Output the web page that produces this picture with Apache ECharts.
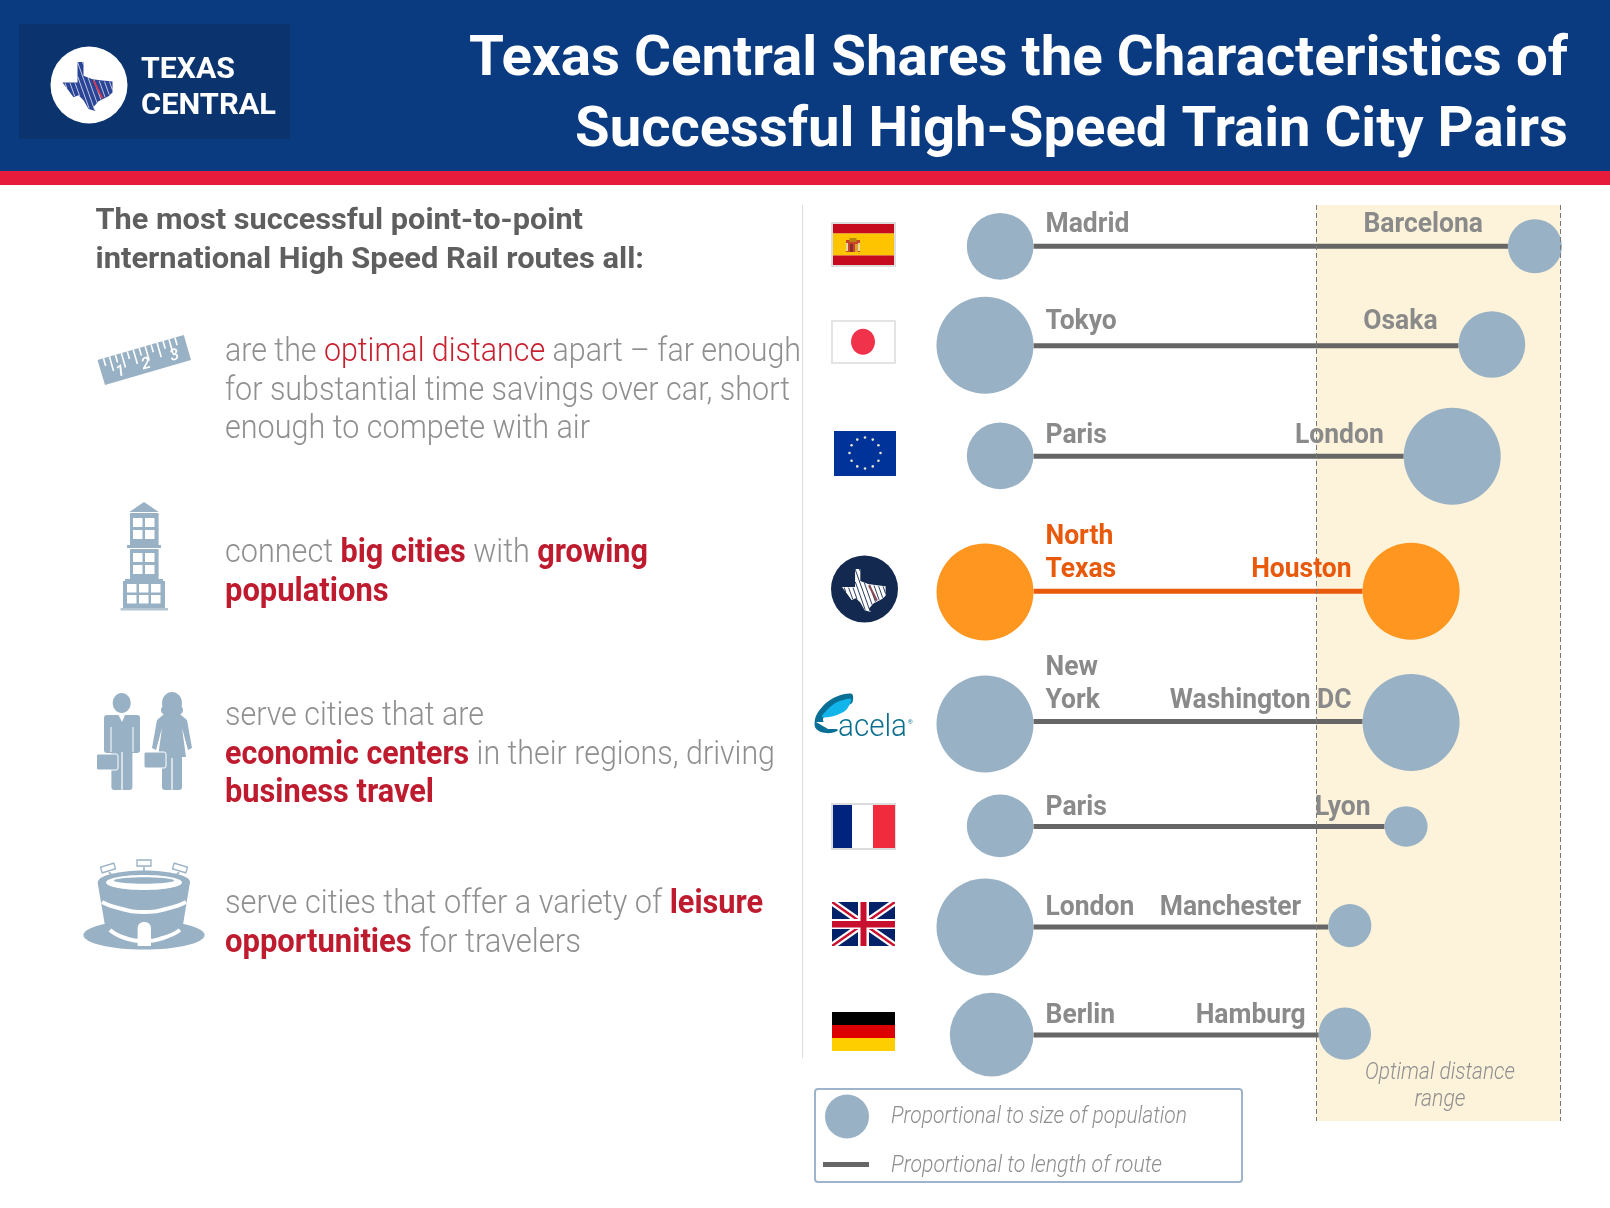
<!DOCTYPE html>
<html><head><meta charset="utf-8">
<style>html,body{margin:0;padding:0;background:#fff}#c{width:1610px;height:1208px}</style>
<script src="https://cdn.jsdelivr.net/npm/echarts@6/dist/echarts.min.js"></script>
</head><body><div id="c"></div>
<script>
// ---------- DATA ----------
const routeNames   = ['Spain','Japan','Europe','Texas','Acela','France','UK','Germany'];
const leftCity     = ['Madrid','Tokyo','Paris','North\nTexas','New\nYork','Paris','London','Berlin'];
const rightCity    = ['Barcelona','Osaka','London','Houston','Washington DC','Lyon','Manchester','Hamburg'];
const routeLength  = [346,310,270,240,240,256,215,208];          // miles (estimated)
const leftPop      = [3.31,7,3.31,7,7,3.31,7,5.21];              // relative population
const rightPop     = [2.17,3.31,7,7,7,1.38,1.38,2.04];
const optimalRange = [206,384.5];                                // miles
const highlightRow = 3;

// ---------- LAYOUT ----------
const rowGap = [9.94,11.06,13.5,13.02,10.49,10.06,10.8];         // relative row spacing
const rowPos = rowGap.reduce((a,g)=>{a.push(a[a.length-1]+g);return a;},[0]);
const rightLabelGap = [25,21,20,11,11,14,27,13];
const labelLift = [4.6,7.7,3.6,4.6,3.6,1.5,2.5,2.5];
const leftNudge  = [0,-.5,-.5,.7,2.5,-.5,0,-.3];
const rightNudge = [0,-1.2,0,0,1,0,-1.4,-1.4];
const squash = [1,1,1,1,1,.94,1,1];
const BLUE='#98b1c4', ORANGE='#ff961f', DARKLINE='#666666', ORANGELINE='#e8590c';
const LABEL='#8a8a8a', BODY='#8f8f8f', RED='#bf1b2f', FONT='Roboto';
const sizeOf = p => 36.66*Math.sqrt(p);

// ---------- text helpers ----------
const ctx = document.createElement('canvas').getContext('2d');
const widthOf=(t,f)=>{ctx.font=f;return ctx.measureText(t).width;};
const G=[];
const fontStr=(size,wt,it)=>`${it?'italic ':''}${wt} ${size}px ${FONT}`;
function textLine(runs,x,y,x2,size,it){
  let total=0; runs.forEach(r=>{total+=widthOf(r.t,fontStr(size,r.w,it));});
  const s=(x2-x)/total; let cx=x;
  runs.forEach(r=>{
    const f=fontStr(size,r.w,it);
    G.push({type:'text',x:cx,y:y+3,scaleX:s,silent:true,z:20,style:{text:r.t,font:f,fill:r.c,align:'left',verticalAlign:'middle'}});
    cx+=widthOf(r.t,f)*s;
  });
}
const rect=(x,y,w,h,fill,extra)=>G.push(Object.assign({type:'rect',silent:true,z:10,shape:{x,y,width:w,height:h},style:{fill}},extra||{}));
const circ=(cx,cy,r,fill)=>G.push({type:'circle',silent:true,z:10,shape:{cx,cy,r},style:{fill}});
const ell=(cx,cy,rx,ry,fill)=>G.push({type:'ellipse',silent:true,z:10,shape:{cx,cy,rx,ry},style:{fill}});
const poly=(pts,fill,smooth)=>G.push({type:'polygon',silent:true,z:10,shape:{points:pts,smooth:smooth||0},style:{fill}});
const seg=(x1,y1,x2,y2,stroke,lw)=>G.push({type:'line',silent:true,z:10,shape:{x1,y1,x2,y2},style:{stroke,lineWidth:lw}});
const curve=(pts,stroke,lw)=>G.push({type:'polyline',silent:true,z:10,shape:{points:pts,smooth:0.6},style:{stroke,lineWidth:lw,fill:'none'}});

// ---------- header ----------
rect(0,0,1610,171,'#0a3a80');
rect(0,171,1610,14,'#e71c3c');
rect(19,24,271,115,'#0b346f');
circ(89,85,38.5,'#ffffff');
const TEXAS=[[.30,0],[.42,0],[.42,.28],[.60,.35],[.80,.38],[1,.40],[1,.62],[.92,.70],[.72,.80],[.62,.92],[.66,1],[.52,.96],[.42,.78],[.32,.68],[.22,.72],[.12,.58],[0,.42],[.30,.42]];
function inside(px,py){
  let c=false;
  for(let i=0,j=TEXAS.length-1;i<TEXAS.length;j=i++){
    const a=TEXAS[i],b=TEXAS[j];
    if((a[1]>py)!==(b[1]>py)&&px<(b[0]-a[0])*(py-a[1])/(b[1]-a[1])+a[0])c=!c;
  }
  return c;
}
function hatchSeg(x,y,w,h,u0,v0,u1,v1,stroke,lw){
  // a stroke running from (u0,v0) to (u1,v1) in unit space, kept only where it lies in the outline
  let start=null,last=null;const N=60;
  for(let k=0;k<=N;k++){
    const t=k/N,u=u0+(u1-u0)*t,v=v0+(v1-v0)*t,inn=inside(u,v);
    if(inn){if(!start)start=[u,v];last=[u,v];}
    if((!inn||k===N)&&start){seg(x+start[0]*w,y+start[1]*h,x+last[0]*w,y+last[1]*h,stroke,lw);start=null;}
  }
}
function texas(x,y,w,h,fill,hatch,accent,lw){
  poly(TEXAS.map(p=>[x+p[0]*w,y+p[1]*h]),fill);
  for(let i=-4;i<=12;i++){const u=i/10;hatchSeg(x,y,w,h,u,0,u+.35,1,hatch,lw);}
  hatchSeg(x,y,w,h,.62,.38,.80,.74,accent,lw*2.4);
}
texas(62.5,62,50,49,'#2b4596','#ffffff','#e0334a',.7);
textLine([{t:'TEXAS',w:700,c:'#ffffff'}],141,67,235,30);
textLine([{t:'CENTRAL',w:700,c:'#ffffff'}],141,103,276,30);
textLine([{t:'Texas Central Shares the Characteristics of',w:700,c:'#ffffff'}],469,58,1568,56);
textLine([{t:'Successful High-Speed Train City Pairs',w:700,c:'#ffffff'}],575,129,1568,56);

// ---------- left column ----------
textLine([{t:'The most successful point-to-point',w:700,c:'#5f5f5f'}],95.5,218,583,30);
textLine([{t:'international High Speed Rail routes all:',w:700,c:'#5f5f5f'}],95.5,257,644,30);
const L=w=>({w:300,c:BODY,t:w}), B=w=>({w:700,c:RED,t:w});
textLine([L('are the '),{t:'optimal distance',w:300,c:'#c8202f'},L(' apart – far enough')],225,350,801,33);
textLine([L('for substantial time savings over car, short')],225,389,790,33);
textLine([L('enough to compete with air')],225,427,590,33);
textLine([L('connect '),B('big cities'),L(' with '),B('growing')],225,551,648,33);
textLine([B('populations')],225,590,388.6,33);
textLine([L('serve cities that are')],225,714,484,33);
textLine([B('economic centers'),L(' in their regions, driving')],225,753,775,33);
textLine([B('business travel')],225,791,434,33);
textLine([L('serve cities that offer a variety of '),B('leisure')],225,902,763,33);
textLine([B('opportunities'),L(' for travelers')],225,941,581,33);
seg(802.5,205,802.5,1058,'#dddddd',1);

// ruler icon
poly([[97.5,360],[183.8,335],[191,360],[105,385]],BLUE);
(function(){const c=Math.cos(.282),s=Math.sin(.282);
  for(let i=1;i<14;i++){const t=i*6.2,x=97.5+c*t,y=360-s*t,l=i%2?8:15;seg(x,y,x+s*l,y+c*l,'#ffffff',1.6);}
  [[120.6,372,'1'],[146,364.5,'2'],[174.6,356,'3']].forEach(n=>G.push({type:'text',x:n[0],y:n[1],rotation:.282,silent:true,z:11,style:{text:n[2],font:'italic 500 16px '+FONT,fill:'#ffffff',align:'center',verticalAlign:'middle'}}));
})();

// building icon
poly([[144,502],[158.6,512],[129.4,512]],BLUE);
rect(130,513,28.6,32,BLUE);rect(127,545,34,3,BLUE);
rect(130,549,28.6,30,BLUE);rect(125,579,38,2,BLUE);
rect(123,581,42,27,BLUE);rect(120.6,608,47.4,2.5,'#b4c6d4');
[[133,518],[145,518],[133,530],[145,530],[133,553],[145,553],[133,565],[145,565]].forEach(p=>rect(p[0],p[1],9.5,9,'#ffffff'));
[[127,584],[139,584],[151,584],[127,595],[139,595],[151,595]].forEach(p=>rect(p[0],p[1],9.5,8.5,'#ffffff'));

// people icon
ell(121.7,703,9,10,BLUE);
rect(104,715,36,38,BLUE,{shape:{x:104,y:715,width:36,height:38,r:[3,3,3,3]}});
rect(111.4,750,21,40,BLUE,{shape:{x:111.4,y:750,width:21,height:40,r:3}});
seg(122,752,122,790,'#ffffff',1.2);seg(111,727,111,752,'#ffffff',1);seg(133,727,133,752,'#ffffff',1);
poly([[118.5,715],[125,715],[122,722]],'#ffffff');
rect(96.5,754,21.5,16,BLUE,{shape:{x:96.5,y:754,width:21.5,height:16,r:2},style:{fill:BLUE,stroke:'#ffffff',lineWidth:1}});
ell(172,703,10,11,BLUE);
ell(172,710,11,7,BLUE);
poly([[163,715],[181,715],[187,720],[192,748],[188,750],[182,728],[186,757],[158,757],[162,728],[156,750],[152,748],[157,720]],BLUE);
rect(162,755,20,35,BLUE,{shape:{x:162,y:755,width:20,height:35,r:3}});
seg(172,758,172,790,'#ffffff',1.2);
rect(144,752,22,16,BLUE,{shape:{x:144,y:752,width:22,height:16,r:2},style:{fill:BLUE,stroke:'#ffffff',lineWidth:1}});

// stadium icon
ell(144,935,60.6,14.6,BLUE);
poly([[97.5,882],[190,882],[180,943],[108,943]],BLUE);
ell(144,943,36,5,BLUE);
ell(144,882,46,11.5,BLUE);
ell(144,882.5,38,7.5,'#ffffff');
ell(144,880.5,30,3.2,BLUE);
curve([[102,902],[122,909],[144,912],[166,909],[186,902]],'#ffffff',4);
curve([[110,930],[125,938],[144,941],[163,938],[180,930]],'#ffffff',4);
rect(137.6,922,13.4,24,'#ffffff',{shape:{x:137.6,y:922,width:13.4,height:24,r:[6,6,0,0]}});
[[108,868,-.3],[144,863,0],[180,868,.3]].forEach(p=>{
  G.push({type:'rect',silent:true,z:10,x:p[0],y:p[1],rotation:-p[2],shape:{x:-7,y:-3,width:14,height:6},style:{fill:'#ffffff',stroke:BLUE,lineWidth:1.3}});
});
seg(109,872,112,876,BLUE,1.6);seg(144,867,144,873,BLUE,1.6);seg(179,872,176,876,BLUE,1.6);

// ---------- flags ----------
// Spain
rect(831,222,65,45,'#dddddd');rect(833,224,61,9.5,'#c60b1e');rect(833,233.5,61,22,'#ffc400');rect(833,255.5,61,9.5,'#c60b1e');
rect(846,240,14,12,'#c9452a');rect(849.5,238,7,4,'#b8860b');rect(850,244,3,8,'#8a2f2f');rect(855,244,3,8,'#e0a030');rect(846,243,2,8,'#e8d9a0');rect(858,243,2,8,'#e8d9a0');
// Japan
rect(831,320,65,44,'#e4e4e4');rect(833,322,61,40,'#ffffff');ell(863,341.7,12,13,'#f0334a');
// EU
rect(834,431,62,45,'#00339a');
for(let i=0;i<12;i++){const a=i*Math.PI/6;circ(865+15.5*Math.cos(a),453+15.5*Math.sin(a),1.3,'#e6e6d0');}
// Texas Central icon
circ(864.5,589,33.5,'#13294f');
texas(842,569,43.6,43,'#ffffff','#13294f','#8a4a5a',.9);
// Acela
poly([[852,694],[838,696],[826,703],[816,716],[815,727],[821,732],[831,733],[838,730],[827,726],[823,719],[830,712],[840,707],[852,703]],'#0a6f94',.3);
poly([[851,699],[837,702],[826,711],[822,717],[834,716],[846,710]],'#12b5ea',.3);
poly([[816,722],[830,722],[838,729],[828,729]],'#ffffff');
textLine([{t:'acela',w:300,c:'#0a6f8f'}],838,725,907,32);
G.push({type:'text',x:908,y:722,silent:true,z:20,style:{text:'®',font:'400 6px '+FONT,fill:'#0a6f8f',align:'left',verticalAlign:'middle'}});
// France
rect(831,803,65,47,'#dddddd');rect(833,805,19,43,'#00247d');rect(852,805,21,43,'#ffffff');rect(873,805,22,43,'#ef2b3d');
// UK
rect(832,902,63,44,'#012169');
seg(832,902,895,946,'#ffffff',7);seg(895,902,832,946,'#ffffff',7);
seg(832,902,895,946,'#c8102e',2.4);seg(895,902,832,946,'#c8102e',2.4);
rect(832,919,63,10,'#ffffff');rect(858,902,11,44,'#ffffff');
rect(832,921,63,6.5,'#c8102e');rect(860.5,902,6,44,'#c8102e');
rect(825,897,77,5,'#ffffff');rect(825,946,77,5,'#ffffff');rect(826,897,6,54,'#ffffff');rect(895,897,6,54,'#ffffff');
// Germany
rect(832,1012,63,13,'#000000');rect(832,1025,63,13,'#dd0000');rect(832,1038,63,13,'#ffce00');

// ---------- legend ----------
G.push({type:'rect',silent:true,z:10,shape:{x:815,y:1089,width:427,height:93,r:3},style:{fill:'#ffffff',stroke:'#9db4ca',lineWidth:2}});
circ(847,1116.5,22,BLUE);
rect(823,1162,46,5,DARKLINE);
textLine([{t:'Proportional to size of population',w:300,c:BODY}],891,1114,1187,24,true);
textLine([{t:'Proportional to length of route',w:300,c:BODY}],891,1163,1162,24,true);

// optimal range caption
textLine([{t:'Optimal distance',w:300,c:BODY}],1365,1070,1515,24,true);
textLine([{t:'range',w:300,c:BODY}],1414.5,1097,1465.5,24,true);

// ---------- series ----------
const rowColor=i=>i===highlightRow?ORANGE:BLUE;
const lineColor=i=>i===highlightRow?ORANGELINE:DARKLINE;
const labelFont=fontStr(28,700);
const LABEL_SCALE=.945;

const series=[{
  type:'line',name:'Optimal distance range',data:[],z:1,silent:true,
  markArea:{silent:true,itemStyle:{color:'#fdf3da'},data:[[{xAxis:optimalRange[0],yAxis:'min'},{xAxis:optimalRange[1],yAxis:'max'}]]},
  markLine:{silent:true,symbol:'none',label:{show:false},animation:false,
    lineStyle:{color:'#777777',width:1,type:[5,3]},data:optimalRange.map(v=>({xAxis:v}))}
}];
routeNames.forEach((n,i)=>series.push({
  type:'line',name:n,z:2,silent:true,symbol:'none',clip:false,
  lineStyle:{color:lineColor(i),width:5},
  data:[[0,rowPos[i]],[routeLength[i],rowPos[i]]]
}));
series.push({
  type:'scatter',name:'Origin cities',z:3,silent:true,clip:false,symbol:'circle',
  data:routeNames.map((n,i)=>{const d=sizeOf(leftPop[i]);return {value:[0,rowPos[i]],symbolSize:[d,d*squash[i]],symbolOffset:[-d/2,leftNudge[i]],itemStyle:{color:rowColor(i),opacity:1}};})
});
series.push({
  type:'scatter',name:'Destination cities',z:3,silent:true,clip:false,symbol:'circle',
  data:routeNames.map((n,i)=>{const d=sizeOf(rightPop[i]);return {value:[routeLength[i],rowPos[i]],symbolSize:[d,d*squash[i]],symbolOffset:[d/2,rightNudge[i]],itemStyle:{color:rowColor(i),opacity:1}};})
});
series.push({
  type:'custom',name:'City labels',z:5,silent:true,clip:false,
  coordinateSystem:'cartesian2d',
  data:routeNames.map((n,i)=>[routeLength[i],rowPos[i],i]),
  renderItem:(p,api)=>{
    const i=api.value(2), end=api.coord([api.value(0),api.value(1)]), start=api.coord([0,api.value(1)]);
    const fill=i===highlightRow?ORANGELINE:LABEL;
    return {type:'group',children:[
      {type:'text',x:start[0]+12,y:start[1]-labelLift[i],scaleX:LABEL_SCALE,style:{text:leftCity[i],font:labelFont,fill,lineHeight:33,align:'left',verticalAlign:'bottom'}},
      {type:'text',x:end[0]-rightLabelGap[i],y:end[1]-labelLift[i],scaleX:LABEL_SCALE,style:{text:rightCity[i],font:labelFont,fill,lineHeight:33,align:'right',verticalAlign:'bottom'}}
    ]};
  }
});

const chart=echarts.init(document.getElementById('c'),null,{width:1610,height:1208});
chart.setOption({
  animation:false,backgroundColor:'#ffffff',
  grid:{left:1033.5,top:205,width:527.9,height:916,containLabel:false},
  xAxis:{type:'value',min:0,max:385,show:false},
  yAxis:{type:'value',inverse:true,min:-4.13,max:87.47,show:false},
  graphic:{elements:G},
  series
});
</script></body></html>
